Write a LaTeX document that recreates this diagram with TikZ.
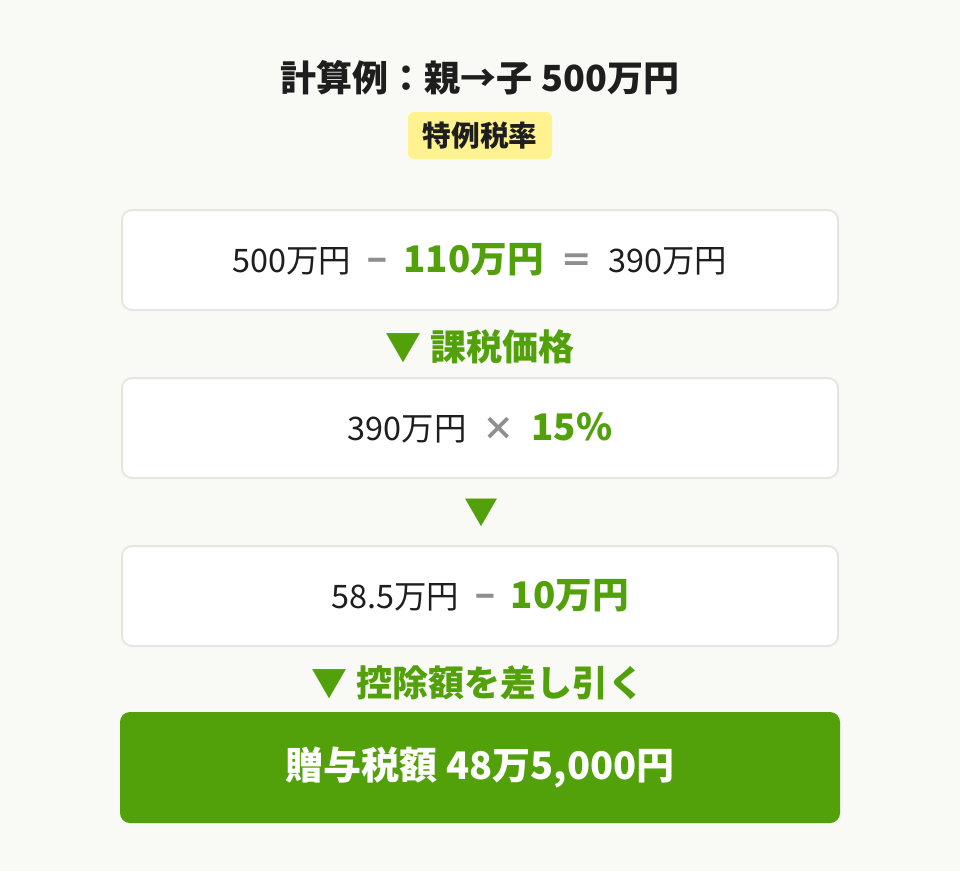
\documentclass[tikz,border=0pt]{standalone}
\usepackage{fontspec}
\setmainfont{Noto Sans CJK JP}
\usetikzlibrary{positioning}
\definecolor{pagebg}{HTML}{F9F9F5}
\definecolor{boxline}{HTML}{E6E6E1}
\definecolor{leaf}{HTML}{52A00A}
\definecolor{badge}{HTML}{FFF28F}
\definecolor{opgray}{HTML}{8F8F8F}
\definecolor{ink}{HTML}{1E1E1E}
\newcommand{\fs}[1]{\fontsize{#1}{#1}\selectfont}
\newcommand{\op}[1]{\enspace{\color{opgray}\bfseries #1}\enspace}
\newcommand{\hl}[1]{{\color{leaf}\bfseries\fs{27.5pt}#1}}

\begin{document}
\begin{tikzpicture}[x=0.75pt,y=-0.75pt,
  calcbox/.style={draw=boxline,line width=1.5pt,fill=white,rounded corners=7.5pt,
    minimum width=537pt,minimum height=75pt,inner sep=0pt,text=ink,font=\fs{24.3pt}},
  steplabel/.style={text=leaf,font=\bfseries\fs{27pt},inner sep=0pt},
  resultbox/.style={fill=leaf,rounded corners=7.5pt,minimum width=540pt,minimum height=83.25pt,
    inner sep=0pt,text=white,font=\bfseries\fs{28.5pt}}]
\fill[pagebg] (0,0) rectangle (960,871);
% heading
\node[text=ink,font=\bfseries\fs{27pt}] (title) at (480,78) {計算例：親→子 500万円};
\node[fill=badge,rounded corners=4.5pt,minimum width=108pt,minimum height=35.25pt,
  inner sep=0pt,text=ink,font=\bfseries\fs{21.5pt}] (rate) at (480,135.5) {特例税率};
% calculation steps
\node[calcbox] (step1) at (480,260) {500万円\op{−}\hl{110万円}\op{＝}390万円};
\node[steplabel] (lbl1) at (480,347) {▼ 課税価格};
\node[calcbox] (step2) at (480,428) {390万円\op{×}\hl{15\%}};
\node[steplabel,font=\bfseries\fs{25.5pt}] (lbl2) at (481,513) {▼};
\node[calcbox] (step3) at (480,596) {58.5万円\op{−}\hl{10万円}};
\node[steplabel] (lbl3) at (478,683) {▼ 控除額を差し引く};
\node[resultbox] (result) at (480,767.5) {贈与税額 48万5,000円};
\end{tikzpicture}
\end{document}
